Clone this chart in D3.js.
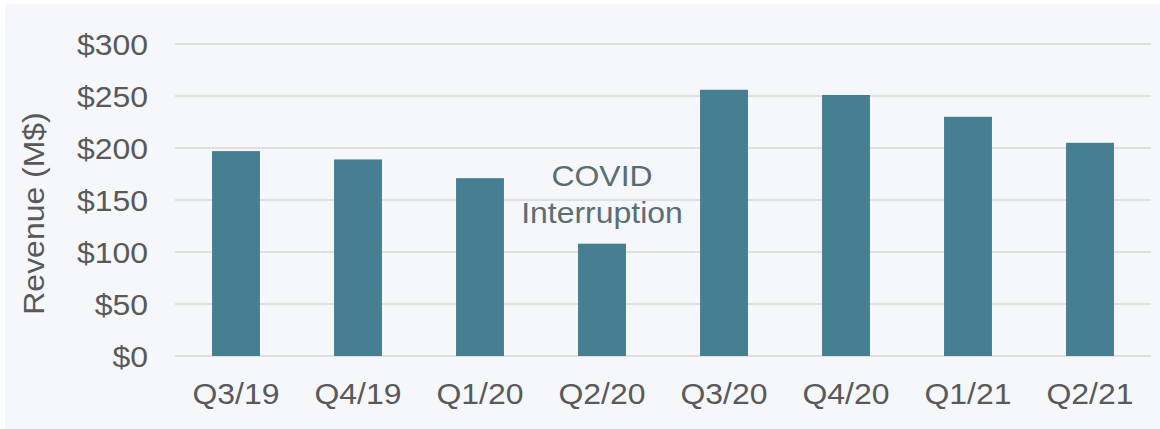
<!DOCTYPE html>
<html>
<head>
<meta charset="utf-8">
<script src="https://cdn.jsdelivr.net/npm/d3@7"></script>
<style>
  html, body { margin: 0; padding: 0; background: #ffffff; }
  svg { display: block; }
  text { font-family: "Liberation Sans", Arial, sans-serif; }
</style>
</head>
<body>
<svg id="chart" width="1160" height="429"></svg>
<script>
const categories = ["Q3/19", "Q4/19", "Q1/20", "Q2/20", "Q3/20", "Q4/20", "Q1/21", "Q2/21"];
const revenue = [197, 189, 171, 108, 256, 251, 230, 205];
const yTicks = [0, 50, 100, 150, 200, 250, 300];
const yLabel = "Revenue (M$)";
const annotationLines = ["COVID", "Interruption"];
const annotationCategory = "Q2/20";

(function () {
const svg = d3.select("#chart");
const W = 1160, H = 429;
const mLeft = 175, mRight = 1151, mTop = 44, mBottom = 356;
const fontSize = 30;
const sx = 1.065; // horizontal text stretch seen in the reference

svg.append("rect").attr("x", 5).attr("y", 4).attr("width", W - 5).attr("height", H - 4).attr("fill", "#f5f7fb");

const x = d3.scaleBand().domain(categories).range([mLeft, mRight]).paddingInner(0.607).paddingOuter(0.3035);
const y = d3.scaleLinear().domain([0, 300]).range([mBottom, mTop]);

// gridlines
svg.append("g").selectAll("line").data(yTicks).join("line")
  .attr("x1", mLeft).attr("x2", mRight)
  .attr("y1", d => y(d)).attr("y2", d => y(d))
  .attr("stroke", "#d9d9d9").attr("stroke-width", 1.6);

// bars
svg.append("g").selectAll("rect").data(categories).join("rect")
  .attr("x", d => x(d))
  .attr("width", x.bandwidth())
  .attr("y", (d, i) => y(revenue[i]))
  .attr("height", (d, i) => y(0) - y(revenue[i]))
  .attr("fill", "#477f92");

// y axis
const yAxis = svg.append("g").attr("transform", `translate(${mLeft},0)`)
  .call(d3.axisLeft(y).tickValues(yTicks).tickSize(0).tickPadding(27).tickFormat(d => "$" + d));
yAxis.select(".domain").remove();
yAxis.selectAll("text").attr("font-size", fontSize).attr("font-family", "Liberation Sans, Arial, sans-serif")
  .attr("fill", "#595959").attr("dy", "0.36em")
  .attr("x", -27 / sx).attr("transform", `scale(${sx},1)`);

// x axis
const xAxis = svg.append("g").attr("transform", `translate(0,${mBottom})`)
  .call(d3.axisBottom(x).tickSize(0).tickPadding(0));
xAxis.select(".domain").remove();
xAxis.selectAll("text").attr("font-size", fontSize).attr("font-family", "Liberation Sans, Arial, sans-serif")
  .attr("fill", "#595959").attr("y", 48).attr("dy", "0")
  .attr("transform", `scale(${sx},1)`);

// y label
svg.append("text")
  .attr("transform", `translate(43.5,213.5) rotate(-90) scale(${sx},1)`)
  .attr("text-anchor", "middle")
  .attr("font-size", fontSize)
  .attr("fill", "#595959")
  .text(yLabel);

// annotation
const ai = categories.indexOf(annotationCategory);
const ax = x(annotationCategory) + x.bandwidth() / 2;
const barTop = y(revenue[ai]);
svg.append("g").attr("transform", `translate(${ax},0) scale(${sx},1)`)
  .selectAll("text").data(annotationLines).join("text")
  .attr("x", 0)
  .attr("y", (d, i) => barTop - 58 + i * 37)
  .attr("text-anchor", "middle")
  .attr("font-size", fontSize)
  .attr("fill", "#5a6e73")
  .text(d => d);
})();
</script>
</body>
</html>
